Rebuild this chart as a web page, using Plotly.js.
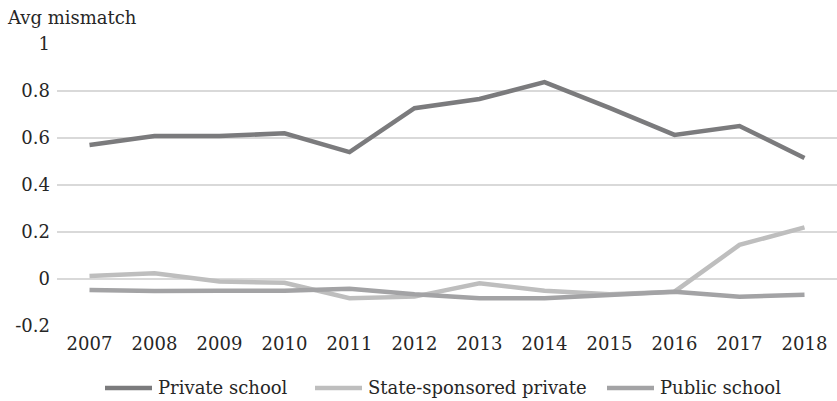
<!DOCTYPE html>
<html>
<head>
<meta charset="utf-8">
<script src="https://cdn.plot.ly/plotly-3.0.1.min.js"></script>
<style>html,body{margin:0;padding:0;background:#fff;}#chart{width:837px;height:401px;}</style>
</head>
<body>
<div id="chart"></div>
<script>
const years = ["2007","2008","2009","2010","2011","2012","2013","2014","2015","2016","2017","2018"];
const privateSchool = [0.570, 0.608, 0.608, 0.620, 0.540, 0.727, 0.766, 0.838, 0.728, 0.613, 0.651, 0.515];
const stateSponsored = [0.013, 0.024, -0.011, -0.016, -0.082, -0.075, -0.018, -0.050, -0.065, -0.054, 0.145, 0.220];
const publicSchool = [-0.047, -0.051, -0.050, -0.050, -0.041, -0.065, -0.082, -0.082, -0.068, -0.054, -0.075, -0.067];
const seriesNames = ["Private school", "State-sponsored private", "Public school"];
const yTicks = [-0.2, 0, 0.2, 0.4, 0.6, 0.8, 1];
const yTickText = ["-0.2", "0", "0.2", "0.4", "0.6", "0.8", "1"];

const font = {family: "DejaVu Serif", size: 18, color: "#262626"};
const colors = ["#7b7b7d", "#bebebe", "#a3a3a5"];
const data = [privateSchool, stateSponsored, publicSchool].map((ys, i) => ({
  x: years, y: ys, type: "scatter", mode: "lines", name: seriesNames[i],
  line: {color: colors[i], width: 4.5}, showlegend: false
}));

// plot area in pixels: left 57, width 780, top 44, height 282
const L = 57, W = 780, T = 44, H = 282;
const px = v => (v - L) / W;
const py = v => (T + H - v) / H;
const legendLineStart = [105, 315, 607];
const legendY = 388;
const shapes = [], annotations = [];
seriesNames.forEach((name, i) => {
  shapes.push({type: "line", xref: "paper", yref: "paper",
    x0: px(legendLineStart[i]), x1: px(legendLineStart[i] + 47), y0: py(legendY), y1: py(legendY),
    line: {color: colors[i], width: 4.5}});
  annotations.push({text: name, xref: "paper", yref: "paper", x: px(legendLineStart[i] + 51), y: py(legendY - 1),
    xanchor: "left", yanchor: "middle", showarrow: false, font: font});
});
annotations.push({text: "Avg mismatch", xref: "paper", yref: "paper", x: px(5), y: py(18),
  xanchor: "left", yanchor: "middle", showarrow: false, font: font});

const layout = {
  width: 837, height: 401,
  margin: {l: L, r: 837 - L - W, t: T, b: 401 - T - H},
  paper_bgcolor: "#fff", plot_bgcolor: "#fff",
  font: font,
  xaxis: {type: "category", range: [-0.5, 11.5], showgrid: false, zeroline: false, showline: false,
          ticks: "", tickfont: font, ticklabelstandoff: 5},
  yaxis: {range: [-0.2, 1], tickvals: yTicks, ticktext: yTickText, showgrid: true, gridcolor: "#d9d9d9",
          gridwidth: 1.2, zeroline: false, showline: false, ticks: "", tickfont: font, ticklabelstandoff: 6},
  showlegend: false,
  shapes: shapes,
  annotations: annotations
};
Plotly.newPlot("chart", data, layout, {displayModeBar: false, staticPlot: true});
</script>
</body>
</html>
